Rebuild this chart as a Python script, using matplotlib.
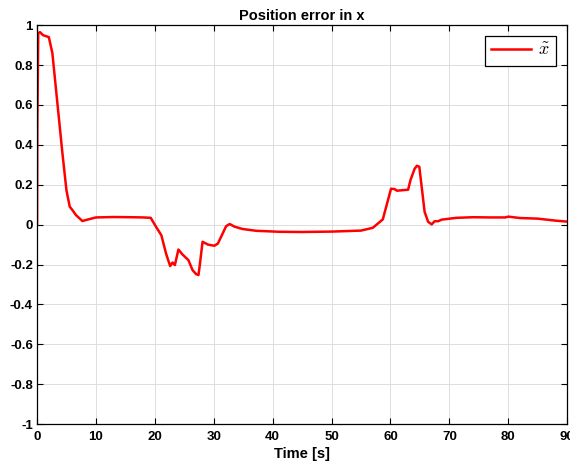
import matplotlib
matplotlib.use("Agg")
import matplotlib.pyplot as plt

# samples
time_s = [0.0, 0.05, 0.2, 0.5, 1.0, 2.0, 2.6, 3.45, 4.3, 5.0, 5.55, 6.0, 6.6, 7.7,
          8.55, 10.0, 13.0, 16.0, 18.0, 19.3, 20.2, 21.1, 21.9, 22.6, 23.0, 23.4,
          24.0, 24.7, 25.7, 26.4, 27.0, 27.4, 27.6, 28.1, 29.0, 30.1, 30.7, 31.2,
          32.1, 32.7, 33.5, 34.9, 37.2, 41.2, 45.0, 50.0, 52.0, 55.0, 57.0, 58.7,
          60.1, 60.7, 61.1, 63.0, 63.4, 64.1, 64.5, 64.9, 65.3, 65.8, 66.4, 67.0,
          67.5, 68.1, 68.7, 71.2, 74.0, 77.0, 79.5, 80.0, 82.0, 85.0, 88.0, 90.0]
x_err = [0.0, 0.5, 0.96, 0.965, 0.95, 0.94, 0.86, 0.61, 0.36, 0.17, 0.09, 0.073,
         0.048, 0.018, 0.025, 0.036, 0.038, 0.037, 0.036, 0.034, -0.011, -0.053,
         -0.145, -0.208, -0.19, -0.203, -0.125, -0.15, -0.178, -0.228, -0.248,
         -0.253, -0.21, -0.086, -0.1, -0.106, -0.095, -0.064, -0.008, 0.003,
         -0.01, -0.022, -0.031, -0.036, -0.037, -0.035, -0.033, -0.03, -0.016,
         0.026, 0.18, 0.178, 0.17, 0.175, 0.223, 0.28, 0.295, 0.29, 0.19, 0.064,
         0.014, 0.001, 0.017, 0.017, 0.025, 0.034, 0.037, 0.036, 0.036, 0.04,
         0.033, 0.03, 0.02, 0.015]

x_ticks = list(range(0, 91, 10))
y_ticks = [-1, -0.8, -0.6, -0.4, -0.2, 0, 0.2, 0.4, 0.6, 0.8, 1]
y_labels = ["-1", "-0.8", "-0.6", "-0.4", "-0.2", "0", "0.2", "0.4", "0.6", "0.8", "1"]

plt.rcParams["font.family"] = ["Liberation Sans", "DejaVu Sans"]
plt.rcParams["mathtext.fontset"] = "cm"

fig = plt.figure(figsize=(5.7, 4.66), dpi=100)
ax = fig.add_axes([0.065, 0.09, 0.93, 0.856])

ax.plot(time_s, x_err, color="#ff0000", lw=1.8, label=r"$\tilde{x}$")

ax.set_xlim(0, 90)
ax.set_ylim(-1, 1)
ax.set_xticks(x_ticks)
ax.set_yticks(y_ticks)
ax.set_yticklabels(y_labels)
ax.tick_params(direction="in", top=True, right=True, labelsize=9.5, length=4, width=0.8)
ax.tick_params(axis="x", pad=5)
ax.tick_params(axis="y", pad=3)
for lbl in ax.get_xticklabels() + ax.get_yticklabels():
    lbl.set_fontweight("bold")
ax.grid(True, color="#dddddd", lw=0.7)
for s in ax.spines.values():
    s.set_linewidth(0.9)

ax.set_title("Position error in x", fontsize=10.5, fontweight="bold", pad=4)
ax.set_xlabel("Time [s]", fontsize=10.5, fontweight="bold", labelpad=3)

leg = ax.legend(loc="upper right", fontsize=13, fancybox=False, framealpha=1,
                edgecolor="black", handlelength=2.2, borderpad=0.35,
                handletextpad=0.4, borderaxespad=0.6)
leg.get_frame().set_linewidth(0.9)

fig.savefig("out.png", dpi=100)
